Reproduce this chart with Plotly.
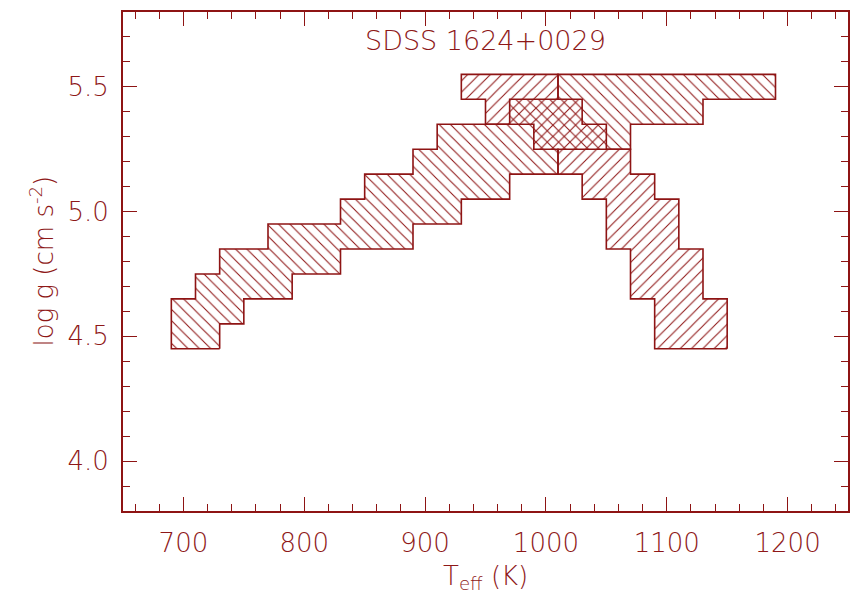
import plotly.graph_objects as go

# log g grid rows (cm s^-2) and the allowed Teff grid points (K) in each row
logg_rows = [4.5, 4.6, 4.7, 4.8, 4.9, 5.0, 5.1, 5.2, 5.3, 5.4, 5.5]

# constraint 1 (hatched "\\")
a_teff_min = [700, 700, 720, 740, 780, 840, 860, 900, 920, 980, 1020]
a_teff_max = [720, 740, 780, 820, 880, 920, 960, 1000, 1060, 1120, 1180]

# constraint 2 (hatched "/")
b_teff_min = [1100, 1100, 1080, 1080, 1060, 1060, 1040, 1020, 1000, 960, 940]
b_teff_max = [1140, 1140, 1120, 1120, 1100, 1100, 1080, 1060, 1040, 1020, 1000]

TEFF_STEP = 20
LOGG_STEP = 0.1

x_ticks = [700, 800, 900, 1000, 1100, 1200]
y_ticks = [4.0, 4.5, 5.0, 5.5]

COLOR = "#8e1414"
TEXT = "#8e1818"
FONT = "DejaVu Sans"


def staircase(rows, tmin, tmax):
    """Outline of a stack of grid rows: up the right side, down the left."""
    ht, hg = TEFF_STEP / 2, LOGG_STEP / 2
    xs, ys = [], []
    for g, hi in zip(rows, tmax):
        xs += [hi + ht, hi + ht]
        ys += [round(g - hg, 3), round(g + hg, 3)]
    for g, lo in reversed(list(zip(rows, tmin))):
        xs += [lo - ht, lo - ht]
        ys += [round(g + hg, 3), round(g - hg, 3)]
    xs.append(xs[0])
    ys.append(ys[0])
    return xs, ys


fig = go.Figure()

for tmin, tmax, shape in [(a_teff_min, a_teff_max, "\\"),
                          (b_teff_min, b_teff_max, "/")]:
    xs, ys = staircase(logg_rows, tmin, tmax)
    fig.add_trace(go.Scatter(
        x=xs, y=ys, mode="lines", fill="toself",
        fillcolor="rgba(0,0,0,0)",
        fillpattern=dict(shape=shape, size=8, solidity=0.13,
                         fgcolor=COLOR, fgopacity=1,
                         bgcolor="rgba(0,0,0,0)"),
        line=dict(color=COLOR, width=1.6),
        hoverinfo="skip", showlegend=False,
    ))

font_main = dict(family=FONT, size=26, color=TEXT, weight=200)

axis_common = dict(
    showgrid=False, zeroline=False,
    showline=True, linecolor=COLOR, linewidth=2,
    mirror="ticks", ticks="inside", tickcolor=COLOR, tickwidth=1.4,
    ticklen=14,
    tickfont=font_main,
)

fig.update_xaxes(
    range=[650, 1250], tickvals=x_ticks,
    ticktext=[str(v) for v in x_ticks],
    minor=dict(dtick=TEFF_STEP, tick0=700, ticks="inside", ticklen=7,
               tickcolor=COLOR, tickwidth=1.2, showgrid=False),
    ticklabelstandoff=8,
    **axis_common,
)
fig.update_yaxes(
    range=[3.8, 5.8], tickvals=y_ticks,
    ticktext=[f"{v:.1f}" for v in y_ticks],
    minor=dict(dtick=LOGG_STEP, tick0=3.8, ticks="inside", ticklen=7,
               tickcolor=COLOR, tickwidth=1.2, showgrid=False),
    ticklabelstandoff=7,
    **axis_common,
)

fig.add_annotation(
    text="SDSS 1624+0029", xref="paper", yref="paper", x=0.5, y=1,
    yshift=-28, xanchor="center", yanchor="middle", showarrow=False,
    font=dict(family=FONT, size=27, color=TEXT, weight=200),
)
fig.add_annotation(
    text="T<sub>eff</sub> (K)", xref="paper", yref="paper", x=0.5, y=0,
    yshift=-66, xanchor="center", yanchor="middle", showarrow=False,
    font=font_main,
)
fig.add_annotation(
    text="log g (cm s<sup>-2</sup>)", xref="paper", yref="paper", x=0, y=0.5,
    xshift=-81, xanchor="center", yanchor="middle", textangle=-90,
    showarrow=False, font=font_main,
)

fig.update_layout(
    width=860, height=600,
    margin=dict(l=123, r=10, t=10, b=89),
    paper_bgcolor="white", plot_bgcolor="white",
)

fig.write_html("out.html")
